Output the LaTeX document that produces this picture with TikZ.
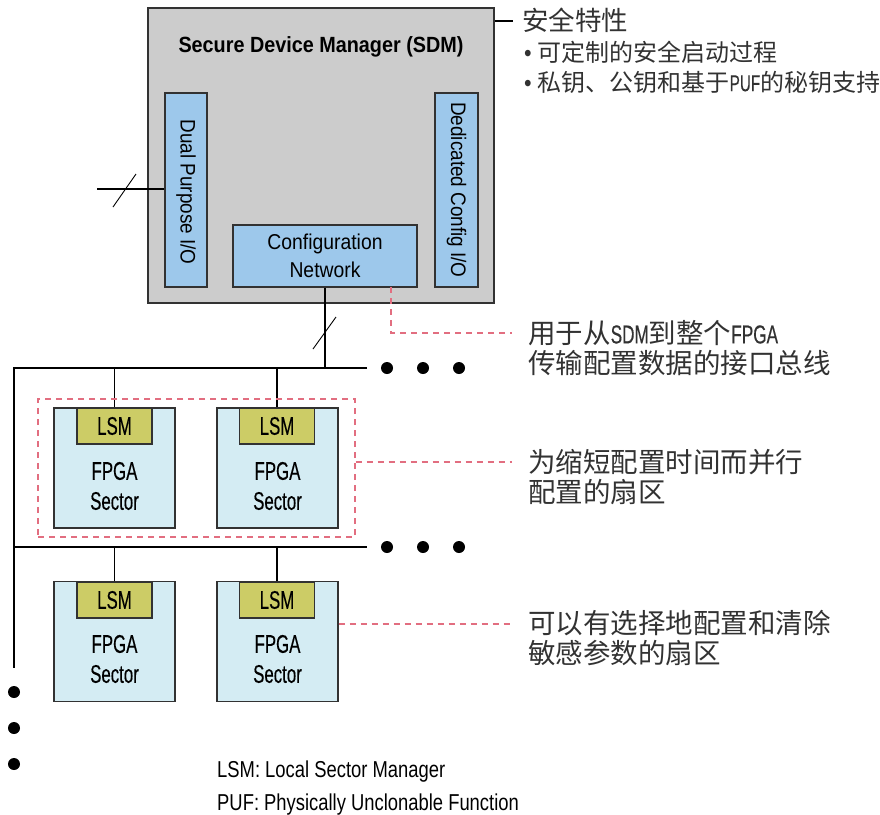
\documentclass[tikz,border=0pt]{standalone}
\usepackage{fontspec}
\setmainfont{Liberation Sans}[FakeStretch=0.9]
\newfontfamily\narrowfont{Liberation Sans}[FakeStretch=0.66,FakeBold=0.3]
\newfontfamily\legendfont{Liberation Sans}[FakeStretch=0.8]
\newfontfamily\cjk{Noto Sans CJK SC}
\definecolor{sdmgray}{RGB}{204,204,204}
\definecolor{ioblue}{RGB}{157,200,235}
\definecolor{sectorfill}{RGB}{212,236,243}
\definecolor{lsmfill}{RGB}{204,204,102}
\definecolor{calloutred}{RGB}{226,110,128}
\definecolor{edge}{RGB}{50,50,50}
\definecolor{notetext}{RGB}{50,50,50}
\begin{document}
\begin{tikzpicture}[x=1pt,y=-1pt,
  box/.style={draw=edge,line width=1.2pt,inner sep=0pt,anchor=center},
  sdmbox/.style={box,fill=sdmgray},
  iobox/.style={box,fill=ioblue},
  sectorbox/.style={box,fill=sectorfill,minimum width=121pt,minimum height=120pt},
  lsmbox/.style={box,fill=lsmfill,minimum width=75pt,minimum height=36pt,font=\narrowfont\fontsize{25.5}{26}\selectfont},
  sectortext/.style={align=center,font=\narrowfont\fontsize{25.5}{30}\selectfont,inner sep=0pt},
  wire/.style={draw=black,line width=1.1pt},
  bus/.style={draw=black,line width=1.1pt},
  callout/.style={draw=calloutred,line width=1.1pt,dash pattern=on 6pt off 5pt},
  note/.style={anchor=west,align=left,inner sep=0pt,text=notetext,font=\cjk\fontsize{27.5}{30}\selectfont},
  latinin/.style={},
  dot/.style={circle,fill=black,inner sep=0pt,minimum size=12pt}
]
\useasboundingbox (0,0) rectangle (880,814);

% Secure Device Manager block
\node[sdmbox,minimum width=346pt,minimum height=295pt] (sdm) at (321,155.5) {};
\node[font=\bfseries\fontsize{22}{24}\selectfont,inner sep=0pt] (sdmtitle) at (321,47) {Secure Device Manager (SDM)};
\node[iobox,minimum width=42pt,minimum height=194pt] (dpio) at (186,190) {};
\node[rotate=-90,font=\fontsize{21}{24}\selectfont,inner sep=0pt] (dpiotext) at (186,192) {Dual Purpose I/O};
\node[iobox,minimum width=43pt,minimum height=194pt] (dcio) at (456.5,190) {};
\node[rotate=-90,font=\fontsize{21}{24}\selectfont,inner sep=0pt] (dciotext) at (456.5,190) {Dedicated Config I/O};
\node[iobox,minimum width=184pt,minimum height=62pt,align=center,font=\fontsize{21.5}{28}\selectfont] (cfg) at (325,256) {Configuration\\Network};

% external I/O wire with bus slash
\coordinate (ioend) at (97,189);
\draw[wire] (ioend) -- (dpio.west |- ioend);
\coordinate (ioslashA) at (113,207);
\coordinate (ioslashB) at (136,174);
\draw[wire,line width=0.9pt] (ioslashA) -- (ioslashB);

% configuration buses
\coordinate (b1L) at (14,368);
\coordinate (b1R) at (367,368);
\coordinate (b2L) at (14,547);
\coordinate (b2R) at (367,547);
\coordinate (trunkend) at (14,668);
\draw[bus] (b1R) -- (b1L) -- (trunkend);
\draw[bus] (b2L) -- (b2R);
\draw[wire] (cfg.south) -- (cfg.south |- b1L);
\coordinate (cfgslashA) at (313,349);
\coordinate (cfgslashB) at (336,317);
\draw[wire,line width=0.9pt] (cfgslashA) -- (cfgslashB);

% continuation dots
\node[dot] (d1a) at (387,368) {};
\node[dot] (d1b) at (423,368) {};
\node[dot] (d1c) at (459,368) {};
\node[dot] (d2a) at (387,547) {};
\node[dot] (d2b) at (423,547) {};
\node[dot] (d2c) at (459,547) {};
\node[dot] (dva) at (14,692) {};
\node[dot] (dvb) at (14,728) {};
\node[dot] (dvc) at (14,764) {};

% FPGA sectors, first row
\node[sectorbox] (s11) at (114.5,468) {};
\node[sectorbox] (s12) at (277.5,468) {};
\node[lsmbox] (l11) at (114.5,426) {LSM};
\node[lsmbox] (l12) at (277,426) {LSM};
\node[sectortext] (t11) at (114.5,486) {FPGA\\Sector};
\node[sectortext] (t12) at (277.5,486) {FPGA\\Sector};
\draw[wire] (l11.north) -- (l11.north |- b1L);
\draw[wire] (l12.north) -- (l12.north |- b1L);

% FPGA sectors, second row
\node[sectorbox] (s21) at (114.5,641.5) {};
\node[sectorbox] (s22) at (277.5,641.5) {};
\node[lsmbox] (l21) at (114.5,600) {LSM};
\node[lsmbox] (l22) at (277,600) {LSM};
\node[sectortext] (t21) at (114.5,659) {FPGA\\Sector};
\node[sectortext] (t22) at (277.5,659) {FPGA\\Sector};
\draw[wire] (l21.north) -- (l21.north |- b2L);
\draw[wire] (l22.north) -- (l22.north |- b2L);

% parallel configuration group
\node[callout,minimum width=317pt,minimum height=138pt,inner sep=0pt] (grp) at (196.5,468) {};

% security features callout
\coordinate (secend) at (513,21);
\draw[wire] (sdm.east |- secend) -- (secend);
\node[anchor=west,inner sep=0pt,text=notetext,font=\cjk\fontsize{26.5}{28}\selectfont] (sechead) at (522,20) {安全特性};
\node[anchor=west,inner sep=0pt,text=notetext,font=\fontsize{24}{30}\selectfont,align=left] (secitems) at (524,67)
  {•\hspace{6pt}{\cjk 可定制的安全启动过程}\\
   •\hspace{6pt}{\cjk 私钥、公钥和基于}{\narrowfont\fontsize{23}{30}\selectfont PUF}{\cjk 的秘钥支持}};

% interface bus callout
\coordinate (cnA) at (391,287);
\coordinate (cnB) at (391,333);
\coordinate (cnC) at (512,333);
\draw[callout] (cnA) -- (cnB) -- (cnC);
\node[note] (busnote) at (528,348)
  {用于从{\narrowfont\fontsize{26}{30}\selectfont SDM}到整个{\narrowfont\fontsize{26}{30}\selectfont FPGA}\\传输配置数据的接口总线};

% parallel sectors callout
\coordinate (grpend) at (512,462);
\draw[callout] ([yshift=6pt]grp.east) -- (grpend);
\node[note] (parnote) at (528,477)
  {为缩短配置时间而并行\\配置的扇区};

% selective clearing callout
\coordinate (clrend) at (512,624);
\draw[callout] ([yshift=17.5pt]s22.east) -- (clrend);
\node[note] (clrnote) at (528,638)
  {可以有选择地配置和清除\\敏感参数的扇区};

% legend
\node[anchor=west,align=left,inner sep=0pt,font=\legendfont\fontsize{23}{33}\selectfont] (legend) at (217,788)
  {LSM: Local Sector Manager\\PUF: Physically Unclonable Function};
\end{tikzpicture}
\end{document}
